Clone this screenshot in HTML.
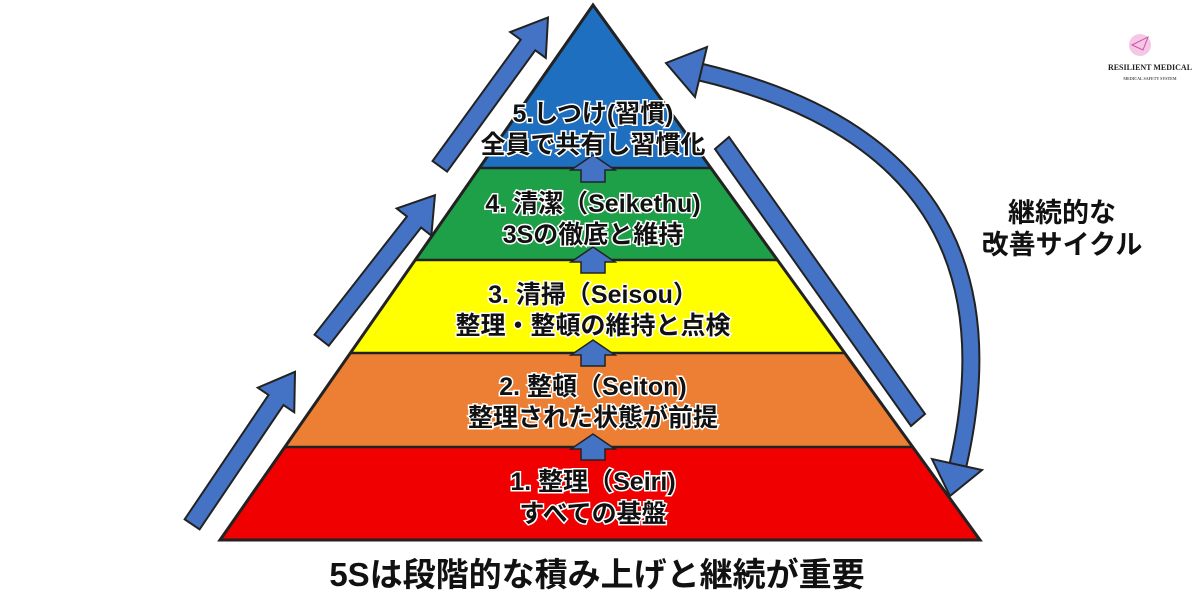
<!DOCTYPE html>
<html><head><meta charset="utf-8"><style>
body{margin:0;background:#fff;width:1200px;height:600px;overflow:hidden}
svg text{font-family:"Liberation Sans","Noto Sans CJK JP",sans-serif;font-weight:bold}
.l{font-size:25px;fill:#111;stroke:#fff;stroke-width:3px;paint-order:stroke;text-anchor:middle}
</style></head><body>
<svg width="1200" height="600" viewBox="0 0 1200 600">
<defs>
<clipPath id="tri"><polygon points="593,5 220,540 980,540"/></clipPath>
<g id="ar"><polygon points="0,-9 -150,-9 -150,9 0,9 0,22 34,0 0,-22" fill="#4472c4" stroke="#222" stroke-width="2"/></g>
</defs>
<g clip-path="url(#tri)">
<rect x="0" y="0" width="1200" height="168" fill="#1f6fc0"/>
<rect x="0" y="168" width="1200" height="92" fill="#1ea048"/>
<rect x="0" y="260" width="1200" height="93" fill="#ffff00"/>
<rect x="0" y="353" width="1200" height="94" fill="#ec7f34"/>
<rect x="0" y="447" width="1200" height="93" fill="#f00000"/>
<g stroke="#222" stroke-width="2.5"><line x1="0" y1="168" x2="1200" y2="168"/><line x1="0" y1="260" x2="1200" y2="260"/><line x1="0" y1="353" x2="1200" y2="353"/><line x1="0" y1="447" x2="1200" y2="447"/></g>
</g>
<polygon points="593,5 220,540 980,540" fill="none" stroke="#222" stroke-width="3"/>
<g fill="#4472c4" stroke="#222" stroke-width="1.5">
<polygon points="581,182 581,170 571,170 593,155 615,170 605,170 605,182"/>
<polygon points="581,273 581,262 571,262 593,247 615,262 605,262 605,273"/>
<polygon points="581,366 581,355 571,355 593,340 615,355 605,355 605,366"/>
<polygon points="581,460 581,449 571,449 593,434 615,449 605,449 605,460"/>
</g>
<text class="l" x="593" y="122">5.しつけ(習慣)</text>
<text class="l" x="593" y="153">全員で共有し習慣化</text>
<text class="l" x="593" y="212">4. 清潔（Seikethu)</text>
<text class="l" x="593" y="243">3Sの徹底と維持</text>
<text class="l" x="593" y="303">3. 清掃（Seisou）</text>
<text class="l" x="593" y="334">整理・整頓の維持と点検</text>
<text class="l" x="593" y="395">2. 整頓（Seiton)</text>
<text class="l" x="593" y="426">整理された状態が前提</text>
<text class="l" x="593" y="490">1. 整理（Seiri)</text>
<text class="l" x="593" y="522">すべての基盤</text>
<use href="#ar" transform="translate(276,400) rotate(-56)"/>
<use href="#ar" transform="translate(414,222) rotate(-52)"/>
<use href="#ar" transform="translate(528,45) rotate(-54)"/>
<polygon points="715,149 729,137 925,414 911,426" fill="#4472c4" stroke="#222" stroke-width="2"/>
<path d="M700,72 Q1030,150 958,465" fill="none" stroke="#222" stroke-width="19"/>
<path d="M700,72 Q1030,150 958,465" fill="none" stroke="#4472c4" stroke-width="15"/>
<polygon points="666,63 707,47 695,97" fill="#4472c4" stroke="#222" stroke-width="2"/>
<polygon points="950,496 982,470 932,459" fill="#4472c4" stroke="#222" stroke-width="2"/>
<text x="1062" y="222" font-size="27" text-anchor="middle" fill="#111">継続的な</text>
<text x="1062" y="254" font-size="27" text-anchor="middle" fill="#111">改善サイクル</text>
<text x="597" y="586" font-size="33" text-anchor="middle" fill="#111">5Sは段階的な積み上げと継続が重要</text>
<circle cx="1140" cy="45" r="11" fill="#f5c6e6"/>
<path d="M1132,45 L1148,37 L1143,50 Z" fill="none" stroke="#d04fa0" stroke-width="1"/>
<text x="1150" y="70" font-size="8" text-anchor="middle" fill="#222" style="font-family:'Liberation Serif',serif">RESILIENT MEDICAL</text>
<text x="1150" y="80" font-size="4" text-anchor="middle" fill="#555" style="font-family:'Liberation Serif',serif">MEDICAL SAFETY SYSTEM</text>
</svg>
</body></html>
